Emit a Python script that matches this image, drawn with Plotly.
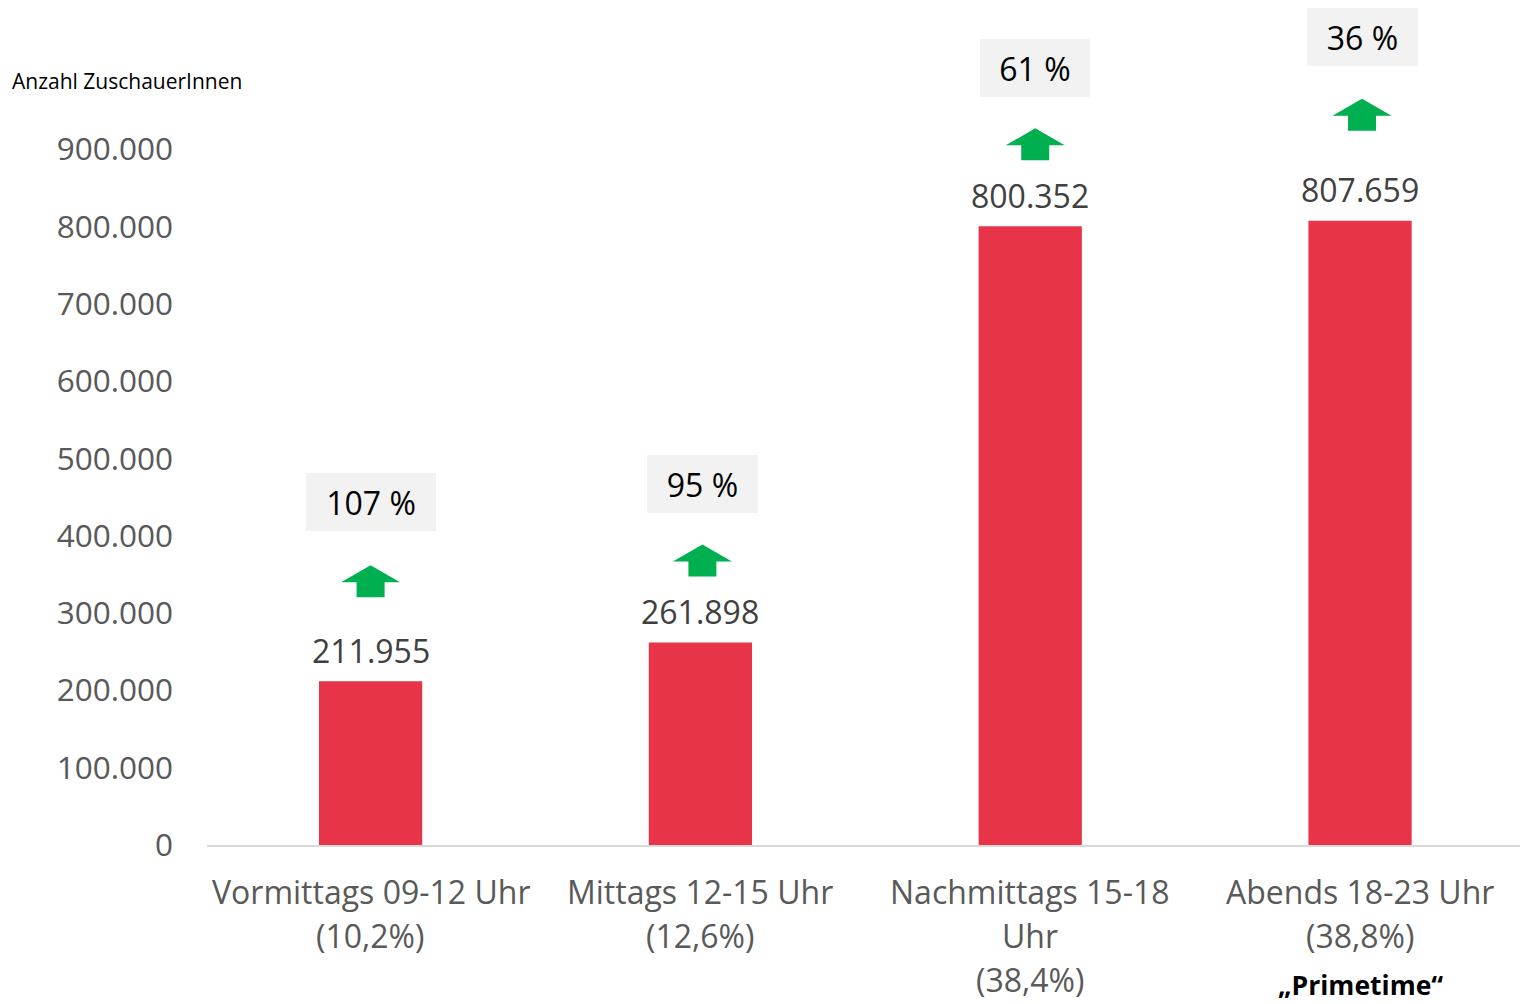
import plotly.graph_objects as go

# ---- data ----
categories = ["Vormittags 09-12 Uhr", "Mittags 12-15 Uhr", "Nachmittags 15-18 Uhr", "Abends 18-23 Uhr"]
category_lines = [
    ["Vormittags 09-12 Uhr", "(10,2%)"],
    ["Mittags 12-15 Uhr", "(12,6%)"],
    ["Nachmittags 15-18", "Uhr", "(38,4%)"],
    ["Abends 18-23 Uhr", "(38,8%)"],
]
viewers = [211955, 261898, 800352, 807659]
value_labels = ["211.955", "261.898", "800.352", "807.659"]
growth_labels = ["107 %", "95 %", "61 %", "36 %"]
highlight_label = "„Primetime“"
highlight_index = 3
y_title = "Anzahl ZuschauerInnen"
y_ticks = [0, 100000, 200000, 300000, 400000, 500000, 600000, 700000, 800000, 900000]

# ---- style (pixel offsets / sizes) ----
FONT = "Open Sans"
BAR_COLOR = "#E83448"
ARROW_COLOR = "#00B050"
GRAY = "#595959"
VALUE_GRAY = "#404040"
arrow_bottom_px = [84, 66, 66, 90]
arrow_dx_px = [0, 2, 5, 2]
box_center_px = [179, 159, 158, 184]
box_width_px = [130, 111, 110, 111]

L, T, B = 207, 72, 159
W, H = 1520, 1004
x_idx = list(range(len(categories)))

fig = go.Figure()
fig.add_trace(go.Bar(
    x=x_idx, y=viewers, width=0.313,
    marker=dict(color=BAR_COLOR, line=dict(width=0)),
    hoverinfo="skip", showlegend=False,
))

annotations = []
shapes = []
for i, v in enumerate(viewers):
    # value label above bar
    annotations.append(dict(
        x=i, y=v, xref="x", yref="y", text=value_labels[i], showarrow=False,
        yanchor="middle", yshift=31, font=dict(family=FONT, size=32, color=VALUE_GRAY),
    ))
    # growth box
    annotations.append(dict(
        x=i, y=v, xref="x", yref="y", text=growth_labels[i], showarrow=False,
        yanchor="middle", xanchor="center", yshift=box_center_px[i], xshift=arrow_dx_px[i],
        width=box_width_px[i], height=58, bgcolor="#F2F2F2", borderpad=0, borderwidth=0,
        font=dict(family=FONT, size=32, color="#000000"),
    ))
    # green arrow
    b = arrow_bottom_px[i]
    d = arrow_dx_px[i]
    path = (f"M {d-14},{b} L {d+14},{b} L {d+14},{b+15} L {d+29.5},{b+15} "
            f"L {d},{b+32} L {d-29.5},{b+15} L {d-14},{b+15} Z")
    shapes.append(dict(
        type="path", xref="x", yref="y", xsizemode="pixel", ysizemode="pixel",
        xanchor=i, yanchor=v, path=path, fillcolor=ARROW_COLOR, line=dict(width=0),
    ))
    # category labels (line by line)
    for j, line in enumerate(category_lines[i]):
        annotations.append(dict(
            x=i, y=0, xref="x", yref="paper", text=line, showarrow=False,
            yanchor="middle", yshift=-46 - 44 * j,
            font=dict(family=FONT, size=32, color=GRAY),
        ))

annotations.append(dict(
    x=highlight_index, y=0, xref="x", yref="paper", text=f"<b>{highlight_label}</b>",
    showarrow=False, yanchor="middle", yshift=-140, borderpad=0, borderwidth=0,
    font=dict(family=FONT, size=26.5, color="#000000"),
))

annotations.append(dict(
    x=(10 - L) / (W - L), y=(H - B - 81) / (H - B - T), xref="paper", yref="paper",
    text=y_title, showarrow=False, xanchor="left", yanchor="middle",
    font=dict(family=FONT, size=21, color="#000000"),
))

fig.update_layout(
    width=W, height=H,
    margin=dict(l=L, r=0, t=T, b=B, pad=0),
    paper_bgcolor="white", plot_bgcolor="white",
    separators=",.",
    annotations=annotations, shapes=shapes,
    font=dict(family=FONT),
    xaxis=dict(
        range=[-0.496, 3.485], showticklabels=False, showgrid=False, zeroline=False,
        showline=True, linecolor="#D9D9D9", linewidth=2, ticks="", fixedrange=True,
    ),
    yaxis=dict(
        range=[0, 1000000], tickvals=y_ticks, tickformat=",.0f",
        showgrid=False, zeroline=False, showline=False, ticks="",
        ticklabelstandoff=33,
        tickfont=dict(family=FONT, size=31.5, color=GRAY), fixedrange=True,
    ),
)

fig.write_html(
    "out.html",
    config={"displayModeBar": False},
    post_script="document.body.style.margin='0';document.body.style.overflow='hidden';",
)
